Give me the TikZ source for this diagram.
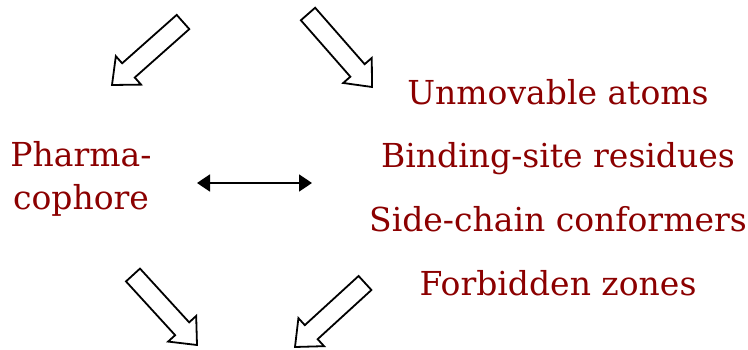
\documentclass[tikz,border=0pt]{standalone}
\usepackage{fontspec}
\setmainfont{DejaVu Serif}
\usetikzlibrary{calc,arrows.meta}
\definecolor{dred}{HTML}{8B0000}
\tikzset{
  lbl/.style={text=dred,font=\fontsize{33}{40}\selectfont,inner sep=0pt,anchor=base},
  blk/.style={draw=black,line width=1.8pt,line join=miter,fill=white},
  dbl/.style={line width=1.8pt,{Triangle[length=13pt,width=17pt]}-{Triangle[length=13pt,width=17pt]}}
}
\newcommand{\blockarr}[2]{%
  \coordinate (#1-c) at ($(#2)!22pt!(#1)$);
  \draw[blk] ($(#1)!9.5pt!90:(#2)$) -- ($(#1-c)!9.5pt!-90:(#1)$) -- ($(#1-c)!19pt!-90:(#1)$) -- (#2)
    -- ($(#1-c)!19pt!90:(#1)$) -- ($(#1-c)!9.5pt!90:(#1)$) -- ($(#1)!9.5pt!-90:(#2)$) -- cycle;
}
\begin{document}
\begin{tikzpicture}[x=1pt,y=-1pt]
\useasboundingbox (0,0) rectangle (748,350);
% texts
\node[lbl] (ph1) at (81,167) {Pharma-};
\node[lbl] (ph2) at (81,210) {cophore};
\node[lbl] (t1) at (558,105) {Unmovable atoms};
\node[lbl] (t2) at (558,168) {Binding-site residues};
\node[lbl] (t3) at (558,232) {Side-chain conformers};
\node[lbl] (t4) at (558,295) {Forbidden zones};
% double arrow
\coordinate (dl) at (197,183);
\coordinate (dr) at (312,183);
\draw[dbl] (dl) -- (dr);
% block arrows
\coordinate (a1) at (183,22);  \coordinate (b1) at (112,85);
\coordinate (a2) at (308,14);  \coordinate (b2) at (372,87);
\coordinate (a3) at (133,275); \coordinate (b3) at (197,345);
\coordinate (a4) at (365,283); \coordinate (b4) at (295,347);
\blockarr{a1}{b1}
\blockarr{a2}{b2}
\blockarr{a3}{b3}
\blockarr{a4}{b4}
\end{tikzpicture}
\end{document}
